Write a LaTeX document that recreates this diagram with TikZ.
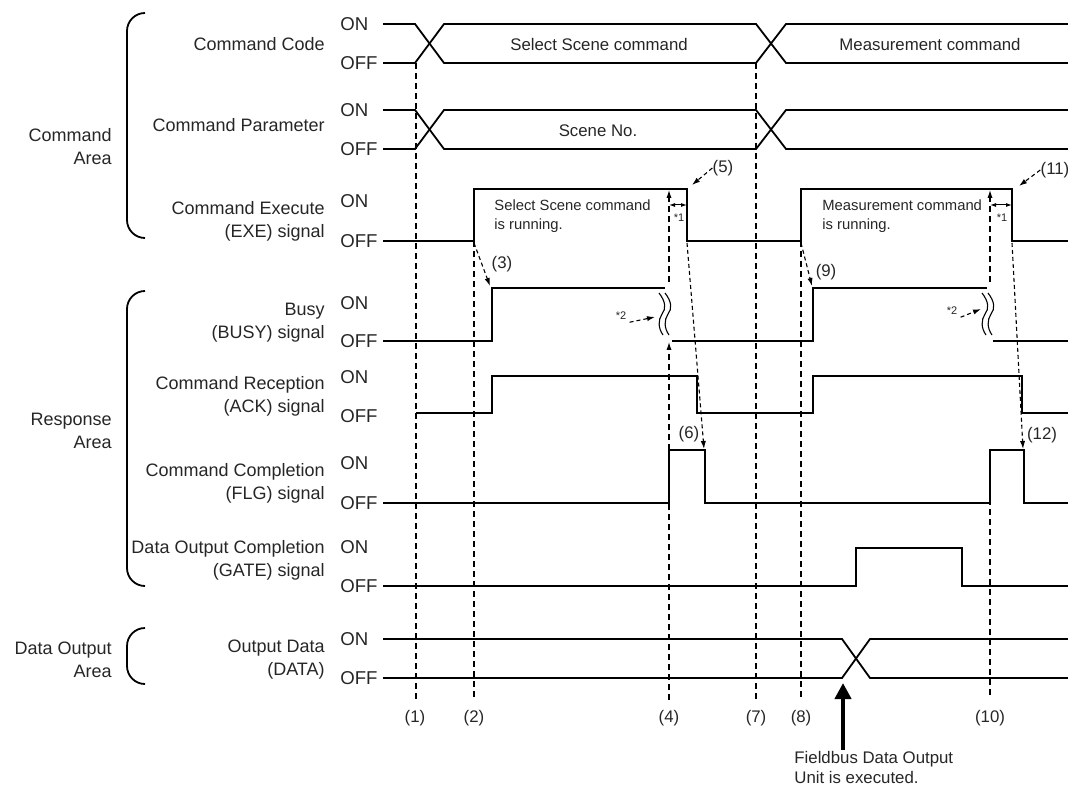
\documentclass[tikz,border=0pt]{standalone}
\usepackage{fontspec}
\setmainfont{Liberation Sans}
\usetikzlibrary{arrows.meta,positioning}

\definecolor{ink}{gray}{0.15}

\tikzset{
  wave/.style={line width=0.9pt, line join=miter},
  guide/.style={dash pattern=on 3pt off 2pt, line width=0.55pt},
  pointer/.style={dash pattern=on 2pt off 1.5pt, line width=0.55pt, -{Latex[length=4pt,width=2.6pt]}},
  signame/.style={anchor=east, align=right, inner sep=0pt, text=ink, font=\fontsize{9}{11.5}\selectfont},
  level/.style={anchor=west, inner sep=0pt, text=ink, font=\fontsize{9.3}{11}\selectfont},
  inner/.style={inner sep=0pt, text=ink, font=\fontsize{8.4}{10}\selectfont},
  running/.style={inner sep=0pt, anchor=west, align=left, text=ink, font=\fontsize{7.4}{9.5}\selectfont},
  tick/.style={inner sep=0pt, text=ink, font=\fontsize{8.4}{10}\selectfont},
  note/.style={inner sep=0pt, text=ink, font=\fontsize{5.5}{6}\selectfont},
  brace/.style={line width=0.9pt, rounded corners=9pt}
}

\begin{document}
\begin{tikzpicture}[x=0.5pt,y=-0.5pt]
\useasboundingbox (0,0) rectangle (1068,785);

% group labels and brackets
\node[signame] (cmdarea) at (112,147) {Command\\Area};
\node[signame] (resarea) at (112,431) {Response\\Area};
\node[signame] (dataarea) at (112,660) {Data Output\\Area};
\draw[brace] (145,13) -- (127,13) -- (127,238) -- (145,238);
\draw[brace] (145,291) -- (127,291) -- (127,586) -- (145,586);
\draw[brace] (145,628) -- (127,628) -- (127,684) -- (145,684);

% signal names
\node[signame] (cc) at (325,44) {Command Code};
\node[signame] (cp) at (325,125) {Command Parameter};
\node[signame] (exe) at (325,221) {Command Execute\\(EXE) signal};
\node[signame] (busy) at (325,323) {Busy\\(BUSY) signal};
\node[signame] (ack) at (325,396) {Command Reception\\(ACK) signal};
\node[signame] (flg) at (325,483) {Command Completion\\(FLG) signal};
\node[signame] (gate) at (325,560) {Data Output Completion\\(GATE) signal};
\node[signame] (data) at (325,660) {Output Data\\(DATA)};

% ON / OFF levels
\foreach \name/\yon/\yoff in {cc/24/63, cp/110/149, exe/201/241, busy/303/341,
                              ack/377/416, flg/463/503, gate/547/586, data/639/678} {
  \node[level] (\name on) at (340,\yon) {ON};
  \node[level] (\name off) at (340,\yoff) {OFF};
}

% Command Code
\draw[wave] (383,24) -- (415,24) -- (444,63) -- (756,63) -- (786,24) -- (1068,24);
\draw[wave] (383,63) -- (415,63) -- (444,24) -- (756,24) -- (786,63) -- (1068,63);
\node[inner] (ccscene) at (599,45) {Select Scene command};
\node[inner] (ccmeas) at (930,45) {Measurement command};

% Command Parameter
\draw[wave] (383,110) -- (415,110) -- (444,149) -- (756,149) -- (786,110) -- (1068,110);
\draw[wave] (383,149) -- (415,149) -- (444,110) -- (756,110) -- (786,149) -- (1068,149);
\node[inner] (cpscene) at (598,131) {Scene No.};

% Command Execute
\draw[wave] (383,241) -- (474,241) -- (474,189) -- (687,189) -- (687,241) -- (801,241)
  -- (801,189) -- (1012,189) -- (1012,241) -- (1068,241);
\node[running] (exerun1) at (494,216) {Select Scene command\\is running.};
\node[running] (exerun2) at (822,216) {Measurement command\\is running.};

% Busy
\draw[wave] (383,341) -- (492,341) -- (492,288) -- (665,288);
\draw[wave] (672,341) -- (813,341) -- (813,288) -- (987,288);
\draw[wave] (993,341) -- (1068,341);
\foreach \bx in {659,665,982,988}
  \draw[line width=0.55pt] (\bx,293) .. controls (\bx+7,302) and (\bx+7,309) .. (\bx+3,314)
    .. controls (\bx-1,320) and (\bx-1,328) .. (\bx+4,335);

% Command Reception
\draw[wave] (416,413) -- (492,413) -- (492,376) -- (697,376) -- (697,413) -- (813,413)
  -- (813,376) -- (1022,376) -- (1022,413) -- (1068,413);

% Command Completion
\draw[wave] (383,503) -- (669,503) -- (669,450) -- (705,450) -- (705,503) -- (990,503)
  -- (990,450) -- (1024,450) -- (1024,503) -- (1068,503);

% Data Output Completion
\draw[wave] (383,586) -- (856,586) -- (856,548) -- (962,548) -- (962,586) -- (1068,586);

% Output Data
\draw[wave] (383,639) -- (842,639) -- (870,678) -- (1068,678);
\draw[wave] (383,678) -- (842,678) -- (870,639) -- (1068,639);

% timing guides
\node[tick] (t1) at (415,718) {(1)};
\node[tick] (t2) at (474,718) {(2)};
\node[tick] (t4) at (669,718) {(4)};
\node[tick] (t7) at (756,718) {(7)};
\node[tick] (t8) at (801,718) {(8)};
\node[tick] (t10) at (990,718) {(10)};
\draw[guide] (416,63) -- (416,700);
\draw[guide] (474,241) -- (474,700);
\draw[guide] (756,63) -- (756,700);
\draw[guide] (801,241) -- (801,700);
\draw[guide] (990,695) -- (990,503);
\draw[guide, -{Latex[length=4pt,width=2.6pt]}] (669,700) -- (669,342);
\draw[guide, -{Latex[length=4pt,width=2.6pt]}] (669,282) -- (669,190);
\draw[guide, -{Latex[length=4pt,width=2.6pt]}] (990,282) -- (990,190);

% delay marks *1
\draw[line width=0.5pt, {Latex[length=3pt,width=2pt]}-{Latex[length=3pt,width=2pt]}] (669,205) -- (687,205);
\draw[line width=0.5pt, {Latex[length=3pt,width=2pt]}-{Latex[length=3pt,width=2pt]}] (990,205) -- (1012,205);
\node[note] (d1a) at (679,218) {*1};
\node[note] (d1b) at (1002,218) {*1};

% *2 marks
\node[note] (d2a) at (621,316) {*2};
\node[note] (d2b) at (952,311) {*2};
\draw[pointer] (d2a.south east) ++(3,2) -- (655,317);
\draw[pointer] (d2b.south east) ++(3,2) -- (981,309);

% numbered events
\node[tick] (n3) at (502,264) {(3)};
\node[tick] (n5) at (723,168) {(5)};
\node[tick] (n6) at (689,434) {(6)};
\node[tick] (n9) at (826,272) {(9)};
\node[tick] (n11) at (1055,170) {(11)};
\node[tick] (n12) at (1042,435) {(12)};
\draw[pointer] (474,243) -- (490,286);
\draw[pointer] (801,243) -- (812,286);
\draw[pointer] (687,243) -- (704,449);
\draw[pointer] (1012,243) -- (1023,449);
\draw[pointer] (n5.west) -- (692,185);
\draw[pointer] (n11.west) -- (1019,186);

% fieldbus output
\coordinate (fbtail) at (843,750);
\coordinate (fbhead) at (843,683);
\draw[line width=2.4pt, -{Triangle[length=8pt,width=8pt]}] (fbtail) -- (fbhead);
\node[inner, anchor=west, align=left] (fbtext) at (794,767) {Fieldbus Data Output\\Unit is executed.};

\end{tikzpicture}
\end{document}
